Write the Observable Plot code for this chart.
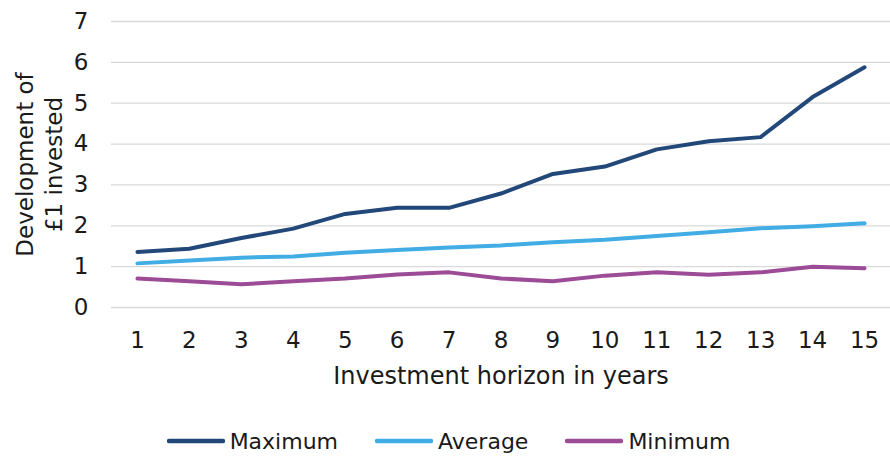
<!DOCTYPE html>
<html>
<head>
<meta charset="utf-8">
<script src="https://cdn.jsdelivr.net/npm/d3@7"></script>
<script src="https://cdn.jsdelivr.net/npm/@observablehq/plot@0.6"></script>
<style>
  html, body { margin: 0; padding: 0; background: #fff; }
  body { width: 890px; height: 457px; overflow: hidden; font-family: Verdana, "DejaVu Sans", sans-serif; color: #1a1a1a; }
  #legend { display: flex; justify-content: center; align-items: center; gap: 37px; height: 37px; padding-top: 5px; padding-left: 7px; font-size: 22px; box-sizing: border-box; }
  .item { display: flex; align-items: center; gap: 5px; }
  .item svg { display: block; }
</style>
</head>
<body>
<div id="chart"></div>
<div id="legend"></div>
<script>
// Investment horizon (years) on the x axis
const years = [1, 2, 3, 4, 5, 6, 7, 8, 9, 10, 11, 12, 13, 14, 15];

// Value of £1 invested after each horizon
const maximum = [1.36, 1.44, 1.70, 1.93, 2.29, 2.44, 2.44, 2.79, 3.27, 3.45, 3.87, 4.07, 4.17, 5.15, 5.88];
const average = [1.08, 1.15, 1.22, 1.25, 1.34, 1.41, 1.47, 1.52, 1.60, 1.66, 1.75, 1.84, 1.94, 1.99, 2.06];
const minimum = [0.71, 0.64, 0.57, 0.64, 0.71, 0.81, 0.86, 0.71, 0.64, 0.78, 0.86, 0.80, 0.86, 1.00, 0.96];

const seriesNames = ["Maximum", "Average", "Minimum"];
const seriesValues = [maximum, average, minimum];
const seriesColors = ["#22487a", "#41ade4", "#9c4b96"];

const yTicks = [0, 1, 2, 3, 4, 5, 6, 7];
const xTitle = "Investment horizon in years";
const yTitle = "Development of\n£1 invested";

// Long-format rows for the line mark
const rows = seriesNames.flatMap((name, s) =>
  years.map((year, i) => ({ series: name, year, value: seriesValues[s][i] }))
);

const chart = Plot.plot({
  width: 890,
  height: 420,
  marginLeft: 111,
  marginRight: 0,
  marginTop: 21,
  marginBottom: 113,
  style: {
    fontFamily: "Verdana, 'DejaVu Sans', sans-serif",
    fontSize: "23px",
    color: "#1a1a1a",
    background: "#fff",
    overflow: "visible"
  },
  x: { domain: [0.5, 15.5] },
  y: { domain: [0, 7] },
  color: { domain: seriesNames, range: seriesColors },
  marks: [
    Plot.gridY(yTicks, { stroke: "#d9d9d9", strokeOpacity: 1, strokeWidth: 1.3 }),
    Plot.axisY(yTicks, { tickSize: 0, tickPadding: 23, label: null }),
    Plot.axisX(years, { tickSize: 0, tickPadding: 24, label: null, tickFormat: d => String(d) }),
    Plot.line(rows, {
      x: "year", y: "value", z: "series", stroke: "series",
      strokeWidth: 4, strokeLinejoin: "round", strokeLinecap: "round"
    }),
    Plot.text([xTitle], { frameAnchor: "bottom", lineAnchor: "bottom", dy: 76, fontSize: 24, text: d => d }),
    Plot.text([yTitle], {
      frameAnchor: "left", textAnchor: "middle", lineAnchor: "middle",
      rotate: -90, dx: -73, lineHeight: 1.25, text: d => d
    })
  ]
});
document.getElementById("chart").appendChild(chart);

// Legend below the plot
const legend = document.getElementById("legend");
seriesNames.forEach((name, i) => {
  const item = document.createElement("div");
  item.className = "item";
  item.innerHTML =
    `<svg width="58" height="8"><line x1="2" y1="4" x2="56" y2="4" stroke="${seriesColors[i]}" stroke-width="4.5" stroke-linecap="round"/></svg><span>${name}</span>`;
  legend.appendChild(item);
});
</script>
</body>
</html>
